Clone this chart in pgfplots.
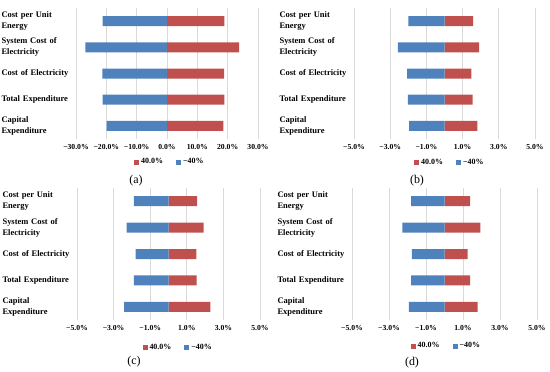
\documentclass[border=0pt]{standalone}
\usepackage{fontspec}
\setmainfont{Liberation Serif}
\usepackage{pgfplots}
\usepackage{pgfplotstable}
\pgfplotsset{compat=1.18}
\definecolor{cred}{RGB}{192,80,77}
\definecolor{cblue}{RGB}{79,129,189}
\definecolor{cgrid}{RGB}{217,217,217}

\pgfplotstableread{
cat pos neg
0 18.6 -19.9
1 18.9 -21.2
2 18.8 -21.3
3 23.8 -26.9
4 18.9 -21.2
}\dataA
\pgfplotstableread{
cat pos neg
0 1.82 -1.95
1 1.56 -2.02
2 1.49 -2.07
3 1.91 -2.58
4 1.58 -2.00
}\dataB
\pgfplotstableread{
cat pos neg
0 2.29 -2.43
1 1.54 -1.89
2 1.52 -1.80
3 1.92 -2.29
4 1.56 -1.89
}\dataC
\pgfplotstableread{
cat pos neg
0 1.79 -1.92
1 1.38 -1.81
2 1.25 -1.77
3 1.94 -2.28
4 1.38 -1.81
}\dataD

\pgfplotsset{
  panel/.style={
    scale only axis,
    anchor=south west,
    xbar, bar width=10bp, bar shift=0pt,
    ymin=-0.5, ymax=4.5,
    ytick={0,1,2,3,4},
    yticklabels={{Capital\\Expenditure},{Total Expenditure},{Cost of Electricity},{System Cost of\\Electricity},{Cost per Unit\\Energy}},
    yticklabel style={font=\fontsize{8.5}{11}\selectfont\bfseries, align=left, text width=69bp, anchor=east, inner sep=1bp},
    xticklabel style={font=\fontsize{7.7}{9}\selectfont\bfseries, yshift=-2bp},
    axis line style={draw=none},
    tick style={draw=none},
    xmajorgrids,
    grid style={draw=cgrid, line width=0.7pt},
    legend columns=2,
    legend style={draw=none, fill=none, font=\fontsize{8}{9}\selectfont\bfseries, anchor=center,
      /tikz/every even column/.append style={column sep=11bp}, inner sep=0pt},
    legend image code/.code={\fill[##1] (0bp,-2.5bp) rectangle (5bp,2.5bp);},
  },
  wide/.style={xmin=-30, xmax=30, xtick={-30,-20,-10,0,10,20,30},
    xticklabels={−30.0\%,−20.0\%,−10.0\%,0.0\%,10.0\%,20.0\%,30.0\%}},
  narrow/.style={xmin=-5, xmax=5, xtick={-5,-3,-1,1,3,5},
    xticklabels={−5.0\%,−3.0\%,−1.0\%,1.0\%,3.0\%,5.0\%}},
}

\begin{document}
\begin{tikzpicture}
\path[use as bounding box] (0bp,0bp) rectangle (550bp,-372bp);

\begin{axis}[panel, wide, at={(76bp,-139bp)}, width=182bp, height=131bp,
  legend style={at={(0.516,-0.176)}}]
\addplot[fill=cred, draw=none] table[x=pos, y=cat] {\dataA};
\addplot[fill=cblue, draw=none] table[x=neg, y=cat] {\dataA};
\legend{40.0\%, −40\%}
\end{axis}

\begin{axis}[panel, narrow, at={(354bp,-139bp)}, width=181bp, height=131bp,
  legend style={at={(0.53,-0.183)}}]
\addplot[fill=cred, draw=none] table[x=pos, y=cat] {\dataB};
\addplot[fill=cblue, draw=none] table[x=neg, y=cat] {\dataB};
\legend{40.0\%, −40\%}
\end{axis}

\begin{axis}[panel, narrow, at={(77bp,-320bp)}, width=183bp, height=132bp,
  legend style={at={(0.553,-0.212)}}]
\addplot[fill=cred, draw=none] table[x=pos, y=cat] {\dataC};
\addplot[fill=cblue, draw=none] table[x=neg, y=cat] {\dataC};
\legend{40.0\%, −40\%}
\end{axis}

\begin{axis}[panel, narrow, at={(352bp,-320bp)}, width=185bp, height=132bp,
  legend style={at={(0.51,-0.197)}}]
\addplot[fill=cred, draw=none] table[x=pos, y=cat] {\dataD};
\addplot[fill=cblue, draw=none] table[x=neg, y=cat] {\dataD};
\legend{40.0\%, −40\%}
\end{axis}

\node[font=\fontsize{12}{14}\selectfont] at (136bp,-181bp) {(a)};
\node[font=\fontsize{12}{14}\selectfont] at (417bp,-181bp) {(b)};
\node[font=\fontsize{12}{14}\selectfont] at (134bp,-362bp) {(c)};
\node[font=\fontsize{12}{14}\selectfont] at (412bp,-363bp) {(d)};
\end{tikzpicture}
\end{document}
